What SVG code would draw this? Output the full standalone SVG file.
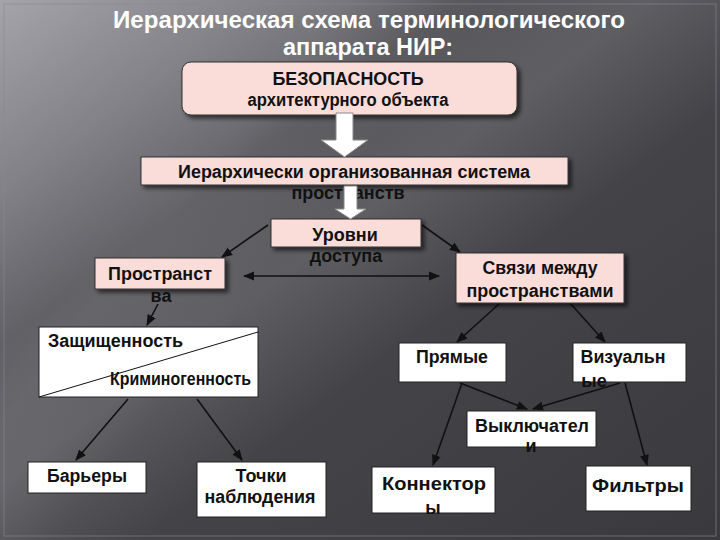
<svg xmlns="http://www.w3.org/2000/svg" width="720" height="540" viewBox="0 0 720 540">
<defs>
<linearGradient id="bg" x1="0" y1="0" x2="1" y2="1">
<stop offset="0" stop-color="#a4a4aa"/>
<stop offset="0.18" stop-color="#7c7c82"/>
<stop offset="0.32" stop-color="#56565b"/>
<stop offset="0.45" stop-color="#5e5e63"/>
<stop offset="0.6" stop-color="#434348"/>
<stop offset="1" stop-color="#3a3a3e"/>
</linearGradient>
<linearGradient id="band" x1="0" y1="0" x2="1" y2="0.6">
<stop offset="0" stop-color="#ffffff" stop-opacity="0"/>
<stop offset="0.35" stop-color="#ffffff" stop-opacity="0.08"/>
<stop offset="0.5" stop-color="#ffffff" stop-opacity="0"/>
</linearGradient>
<filter id="sh" x="-10%" y="-20%" width="130%" height="150%">
<feDropShadow dx="3" dy="3" stdDeviation="2" flood-color="#000" flood-opacity="0.6"/>
</filter>
<marker id="ah" viewBox="0 0 10 10" refX="9" refY="5" markerWidth="7" markerHeight="7" orient="auto-start-reverse">
<path d="M0,1 L10,5 L0,9 z" fill="#111"/>
</marker>
</defs>
<style>
.t{font-family:"Liberation Sans",Arial,sans-serif;font-weight:bold;font-size:18px;fill:#111;text-anchor:middle}
.pink{fill:#fadcd9;stroke:#333;stroke-width:1}
.wb{fill:#fff;stroke:#222;stroke-width:1}
.ln{stroke:#111;stroke-width:1.6;fill:none;marker-end:url(#ah)}
.blk{fill:#fff;stroke:#888;stroke-width:1}
</style>
<rect width="720" height="540" fill="url(#bg)"/>
<rect width="720" height="540" fill="url(#band)"/>
<rect x="4" y="4" width="712" height="532" fill="none" stroke="#8a8a90" stroke-width="1" opacity="0.6"/>

<g id="title" font-family="'Liberation Sans',Arial,sans-serif" font-weight="bold" font-size="24" fill="#fff" text-anchor="middle">
<text x="369" y="28" textLength="512" lengthAdjust="spacingAndGlyphs">Иерархическая схема терминологического</text>
<text x="368" y="55" textLength="170" lengthAdjust="spacingAndGlyphs">аппарата НИР:</text>
</g>

<g id="connectors">
<line class="ln" x1="268" y1="225" x2="222" y2="257"/>
<line class="ln" x1="422" y1="225" x2="460" y2="252"/>
<line class="ln" x1="244" y1="276" x2="439" y2="276" marker-start="url(#ah)"/>
<line class="ln" x1="158" y1="304" x2="147" y2="325"/>
<line class="ln" x1="128" y1="399" x2="76" y2="460"/>
<line class="ln" x1="197" y1="399" x2="242" y2="460"/>
<line class="ln" x1="500" y1="303" x2="457" y2="342"/>
<line class="ln" x1="570" y1="303" x2="605" y2="342"/>
<line class="ln" x1="460" y1="383" x2="527" y2="409"/>
<line class="ln" x1="620" y1="383" x2="533" y2="409"/>
<line class="ln" x1="462" y1="383" x2="433" y2="465"/>
<line class="ln" x1="625" y1="383" x2="647" y2="465"/>
</g>

<g id="n-bezopasnost">
<rect class="pink" x="182" y="62" width="335" height="53" rx="9" filter="url(#sh)"/>
<text class="t" x="348" y="85" font-size="17" textLength="151" lengthAdjust="spacingAndGlyphs">БЕЗОПАСНОСТЬ</text>
<text class="t" x="348" y="106" font-weight="normal" font-size="17" textLength="201" lengthAdjust="spacingAndGlyphs">архитектурного объекта</text>
</g>

<g id="n-sistema">
<rect class="pink" x="141" y="157" width="427" height="28" filter="url(#sh)"/>
<text class="t" x="354" y="178" textLength="352" lengthAdjust="spacingAndGlyphs">Иерархически организованная система</text>
<text class="t" x="348" y="199">пространств</text>
</g>

<g id="n-urovni">
<rect class="pink" x="271" y="219" width="150" height="28" filter="url(#sh)"/>
<text class="t" x="345" y="241">Уровни</text>
<text class="t" x="346" y="262">доступа</text>
</g>

<g id="n-prostranstva">
<rect class="pink" x="95" y="258" width="130" height="31" filter="url(#sh)"/>
<text class="t" x="160" y="280" textLength="104" lengthAdjust="spacingAndGlyphs">Пространст</text>
<text class="t" x="161" y="302">ва</text>
</g>

<g id="n-svyazi">
<rect class="pink" x="456" y="253" width="168" height="50" filter="url(#sh)"/>
<text class="t" x="540" y="274" textLength="115" lengthAdjust="spacingAndGlyphs">Связи между</text>
<text class="t" x="540" y="297" textLength="147" lengthAdjust="spacingAndGlyphs">пространствами</text>
</g>

<g id="n-zashchishchennost">
<rect class="wb" x="39" y="327" width="219" height="70"/>
<line x1="39" y1="397" x2="258" y2="332" stroke="#111" stroke-width="1"/>
<text class="t" x="48" y="347" style="text-anchor:start" textLength="135" lengthAdjust="spacingAndGlyphs">Защищенность</text>
<text class="t" x="110" y="385" style="text-anchor:start" font-size="15" textLength="141" lengthAdjust="spacingAndGlyphs">Криминогенность</text>
</g>

<g id="n-barery">
<rect class="wb" x="28" y="462" width="118" height="31"/>
<text class="t" x="87" y="482" textLength="80" lengthAdjust="spacingAndGlyphs">Барьеры</text>
</g>

<g id="n-tochki">
<rect class="wb" x="197" y="462" width="129" height="55"/>
<text class="t" x="261" y="482">Точки</text>
<text class="t" x="260" y="503" textLength="111" lengthAdjust="spacingAndGlyphs">наблюдения</text>
</g>

<g id="n-pryamye">
<rect class="wb" x="399" y="343" width="107" height="39"/>
<text class="t" x="452" y="363" textLength="72" lengthAdjust="spacingAndGlyphs">Прямые</text>
</g>

<g id="n-vizualnye">
<rect class="wb" x="573" y="343" width="113" height="39"/>
<text class="t" x="623" y="363" textLength="85" lengthAdjust="spacingAndGlyphs">Визуальн</text>
<text class="t" x="594" y="387" font-size="16">ые</text>
</g>

<g id="n-vyklyuchateli">
<rect class="wb" x="467" y="411" width="129" height="36"/>
<text class="t" x="532" y="432" textLength="114" lengthAdjust="spacingAndGlyphs">Выключател</text>
<text class="t" x="531" y="452">и</text>
</g>

<g id="n-konnektory">
<rect class="wb" x="372" y="467" width="123" height="46"/>
<text class="t" x="434" y="490" font-size="21" textLength="104" lengthAdjust="spacingAndGlyphs">Коннектор</text>
<text class="t" x="433" y="514" font-size="21">ы</text>
</g>

<g id="n-filtry">
<rect class="wb" x="586" y="466" width="105" height="45"/>
<text class="t" x="638" y="492" font-size="21" textLength="92" lengthAdjust="spacingAndGlyphs">Фильтры</text>
</g>

<g id="block-arrows">
<path class="blk" d="M336,113 L353,113 L353,140 L368,140 L344.5,157 L321,140 L336,140 Z"/>
<path class="blk" d="M344,186 L357,186 L357,209 L366,209 L350.5,219 L335,209 L344,209 Z"/>
</g>
</svg>
